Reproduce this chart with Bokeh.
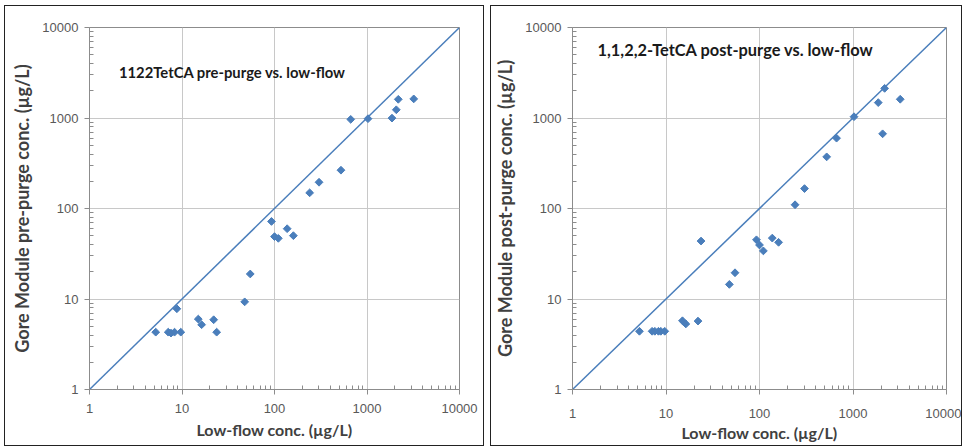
import numpy as np
from bokeh.plotting import figure
from bokeh.layouts import row
from bokeh.models import FixedTicker, PrintfTickFormatter, Label
from bokeh.embed import file_html
from bokeh.resources import INLINE

# ---- data ----
low_flow = [5.2, 7.1, 7.6, 8.3, 8.8, 9.7, 15.0, 16.3, 22.0, 23.7, 47.6, 54.7,
            92.8, 100, 110, 137, 160, 240, 303, 523, 667, 1025, 1862, 2074, 2179, 3200]
pre_purge = [4.3, 4.3, 4.2, 4.3, 7.8, 4.3, 6.0, 5.2, 5.9, 4.3, 9.3, 18.9,
             71.9, 48.9, 46.8, 59.8, 50.1, 149, 195, 265, 966, 982, 997, 1233, 1609, 1626]
post_purge = [4.4, 4.4, 4.4, 4.4, 4.4, 4.4, 5.75, 5.3, 5.7, 43.7, 14.5, 19.5,
              45.1, 39.5, 34.0, 47.1, 42.3, 110, 166, 372, 599, 1033, 1479, 669, 2125, 1611]
major_ticks = [1, 10, 100, 1000, 10000]
axis_range = [1, 10000]

titles = ["1122TetCA pre-purge vs. low-flow", "1,1,2,2-TetCA post-purge vs. low-flow"]
ylabels = ["Gore Module pre-purge conc. (\u00b5g/L)", "Gore Module post-purge conc. (\u00b5g/L)"]
xlabel = "Low-flow conc. (\u00b5g/L)"

BLUE = "#4a7ebb"
minor = [m * d for d in major_ticks[:-1] for m in range(2, 10)]


def make(ys, title, ylabel, width, height, bl, br, bt, bb, tx, ty, tsize, xstand, xlstand, margin):
    p = figure(width=width, height=height, x_axis_type="log", y_axis_type="log",
               x_range=(axis_range[0], axis_range[1]), y_range=(axis_range[0], axis_range[1]),
               output_backend="svg", toolbar_location=None,
               min_border_left=bl, min_border_right=br, min_border_top=bt, min_border_bottom=bb,
               background_fill_color="white", border_fill_color="white")
    p.margin = margin
    p.styles = {"border": "1px solid #222"}
    p.outline_line_color = "#8c8c8c"
    p.outline_line_width = 1
    for ax in (p.xaxis[0], p.yaxis[0]):
        ax.ticker = FixedTicker(ticks=major_ticks, minor_ticks=minor)
        ax.formatter = PrintfTickFormatter(format="%d")
        ax.axis_line_color = "#8c8c8c"
        ax.major_tick_line_color = "#8c8c8c"
        ax.minor_tick_line_color = "#8c8c8c"
        ax.major_tick_out = 5
        ax.major_tick_in = 0
        ax.minor_tick_in = 4
        ax.minor_tick_out = 0
        ax.major_label_text_font = "Liberation Sans"
        ax.major_label_text_font_size = "13px"
        ax.major_label_text_color = "#595959"
        ax.axis_label_text_font = "Lato"
        ax.axis_label_text_font_style = "bold"
        ax.axis_label_text_color = "#404040"
    p.xaxis.axis_label_text_font_size = "16px"
    p.yaxis.axis_label_text_font_size = "18px"
    p.xaxis.axis_label = xlabel
    p.yaxis.axis_label = ylabel
    p.xaxis.major_label_standoff = xstand
    p.yaxis.major_label_standoff = 6
    p.xaxis.axis_label_standoff = xlstand
    p.yaxis.axis_label_standoff = 6
    p.grid.grid_line_color = "#c8c8c8"
    p.grid.grid_line_width = 1
    p.grid.ticker = FixedTicker(ticks=major_ticks)

    p.line(axis_range, axis_range, line_color=BLUE, line_width=1.5)
    p.scatter(low_flow, ys, marker="square", angle=np.pi / 4, size=5.5,
              fill_color=BLUE, line_color=BLUE)
    p.add_layout(Label(x=tx, y=ty, text=title, text_font="Lato", text_font_style="bold",
                       text_font_size=tsize, text_color="#1a1a1a", text_baseline="middle"))
    return p


p1 = make(pre_purge, titles[0], ylabels[0], 480, 441, 84, 26, 18, 58, 2.08, 3240, "14.8px",
          9, 4, (5, 0, 0, 4))
p2 = make(post_purge, titles[1], ylabels[1], 472, 441, 81, 17, 21, 53, 1.85, 5700, "16.4px",
          14, 2, (5, 0, 0, 6))

layout = row(p1, p2)
open("out.html", "w").write(file_html(layout, INLINE))
